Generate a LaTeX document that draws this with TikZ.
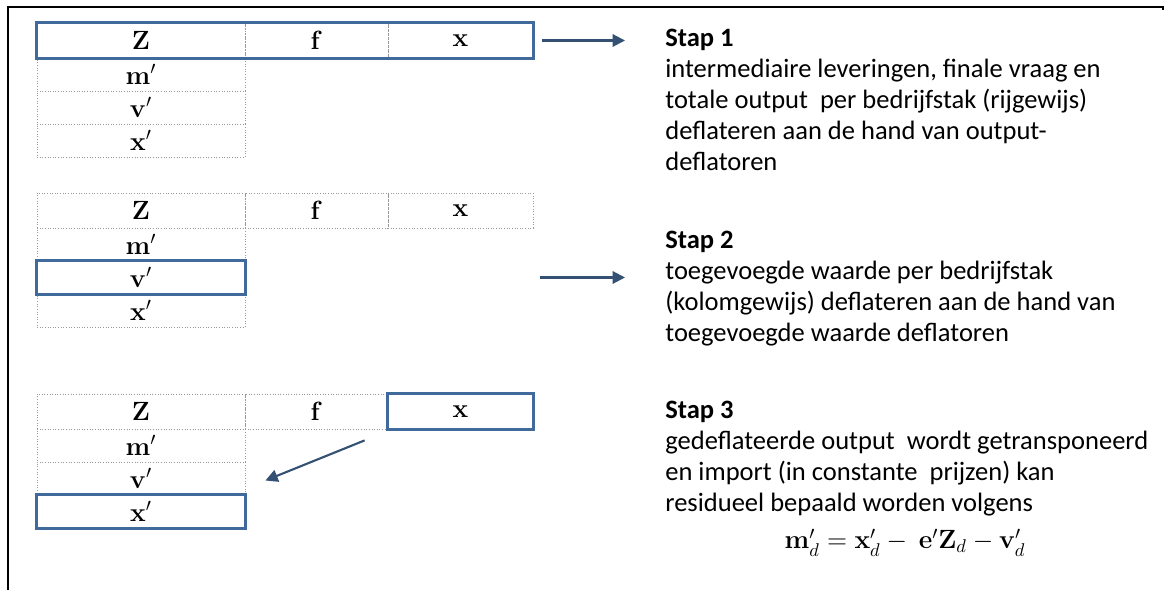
\RequirePackage{fix-cm}
\documentclass[tikz,border=0pt]{standalone}
\usepackage{amsmath}
\usepackage[no-math]{fontspec}
\setmainfont{Carlito}
\usetikzlibrary{positioning}
\usetikzlibrary{calc}
\usetikzlibrary{arrows.meta}
\usetikzlibrary{fit}
\definecolor{boxblue}{RGB}{65,106,156}
\definecolor{arrblue}{RGB}{52,80,115}

\begin{document}
\begin{tikzpicture}[x=0.02cm, y=-0.02cm,
  cel/.style={draw=gray!80, densely dotted, line width=0.5pt, inner sep=0pt,
              minimum height=0.66cm, font=\fontsize{15}{18}\selectfont},
  colZ/.style={cel, minimum width=4.16cm},
  colf/.style={cel, minimum width=2.86cm},
  colx/.style={cel, minimum width=2.9cm},
  toprow/.style={minimum height=0.7cm},
  hl/.style={draw=boxblue, line width=1.7pt, inner sep=0pt},
  arr/.style={draw=arrblue, line width=1.2pt, -{Triangle[length=7pt,width=7pt]}},
  steptext/.style={anchor=north west, inner sep=0pt, align=left,
                   font=\fontsize{15.1}{17.6}\selectfont}
]
\useasboundingbox (0,0) rectangle (1164,590);

%---------------------------------------
% Frame
%---------------------------------------
\draw[line width=1.4pt] (8,590) -- (8,7) -- (1163,7) -- (1163,10);

%---------------------------------------
% The three tables
%---------------------------------------
\foreach \k/\T in {1/23,2/193,3/394}{
  \node[colZ,toprow] (Z\k) at (141,\T+17.5)   {$\mathbf{Z}$};
  \node[colf,toprow] (f\k) at (316.5,\T+17.5) {$\mathbf{f}$};
  \node[colx,toprow] (x\k) at (460.5,\T+17.5) {$\mathbf{x}$};
  \node[colZ] (m\k) at (141,\T+51.5)  {$\mathbf{m}'$};
  \node[colZ] (v\k) at (141,\T+84.5)  {$\mathbf{v}'$};
  \node[colZ] (t\k) at (141,\T+117.5) {$\mathbf{x}'$};
}

% highlighted cells
\node[hl, fit=(Z1)(x1)] (row1) {};
\node[hl, fit=(v2)] (box2) {};
\node[hl, fit=(x3)] (box3a) {};
\node[hl, fit=(t3)] (box3b) {};

%---------------------------------------
% Step texts
%---------------------------------------
\node[steptext] (txt1) at (665,29) {{\bfseries Stap 1}\\
  intermediaire leveringen, finale vraag en\\
  totale output~ per bedrijfstak (rijgewijs)\\
  deflateren aan de hand van output-\\
  deflatoren};

\node[steptext] (txt2) at (665,231) {{\bfseries Stap 2}\\
  toegevoegde waarde per bedrijfstak\\
  (kolomgewijs) deflateren aan de hand van\\
  toegevoegde waarde deflatoren};

\node[steptext] (txt3) at (665,401) {{\bfseries Stap 3}\\
  gedeflateerde output~ wordt getransponeerd\\
  en import (in constante~ prijzen) kan\\
  residueel bepaald worden volgens};

\node[anchor=base, font=\fontsize{15}{18}\selectfont] (eq3) at (905,549)
  {$\mathbf{m}'_d = \mathbf{x}'_d -\ \mathbf{e}'\mathbf{Z}_d - \mathbf{v}'_d$};

%---------------------------------------
% Arrows
%---------------------------------------
\draw[arr, shorten <=0.14cm, shorten >=0.8cm] (row1.east) -- (row1.east -| txt1.west);
\draw[arr, shorten <=0.14cm, shorten >=0.8cm] (v2.east -| x2.east) -- (v2.east -| txt2.west);
\draw[arr] ($(x3.south west)+(-23,11)$) -- ($(v3.east)+(20,2)$);

\end{tikzpicture}
\end{document}
